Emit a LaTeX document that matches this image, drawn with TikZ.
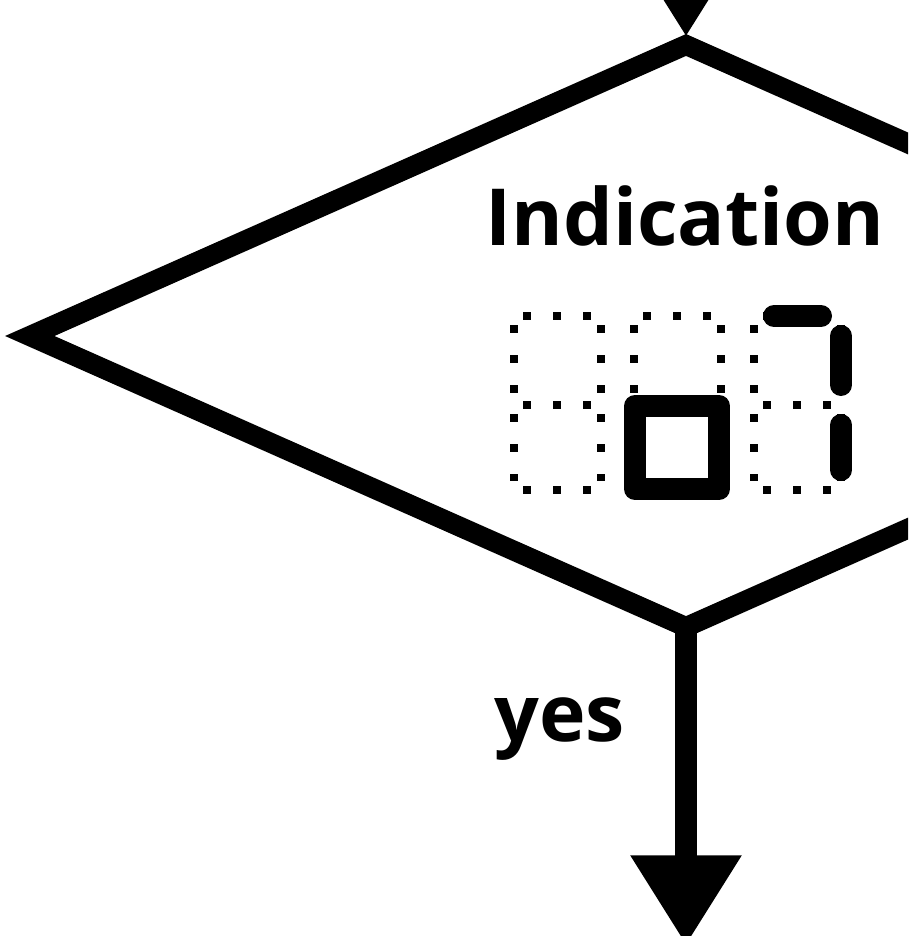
\documentclass[tikz,border=0pt]{standalone}
\usepackage{fontspec}
\setmainfont{Open Sans}
\usepackage{tikz}
\usetikzlibrary{arrows.meta,positioning,shapes.geometric}
\tikzset{
  decision node/.style={diamond,draw=black,line width=0.2cm,minimum width=13.2cm,minimum height=5.9cm,inner sep=0pt},
  flow arrow/.style={-{Triangle[length=0.9cm,width=1.05cm]},line width=0.22cm,draw=black},
  label text/.style={font=\fontsize{22.4}{27}\selectfont\bfseries,inner sep=0pt},
  seg dot/.style={line width=0.08cm,dash pattern=on 0.08cm off 0.22cm,shorten <=0.09cm,shorten >=0.09cm},
  seg on/.style={line width=0.22cm,line cap=round,line join=round}
}
\begin{document}
\begin{tikzpicture}[x=0.01cm,y=-0.01cm,node distance=3mm]
        \useasboundingbox (0,0) rectangle (908,936);
        \clip (0,0) rectangle (908,936);
        \node[decision node] (check) at (686,336) {};
        \node[label text,anchor=base] (indication) at (685,245) {Indication};
        \foreach \x in {514,634,754}
          \foreach \ax/\ay/\bx/\by in {0/316/87/316,87/316/87/405,87/405/87/490,0/490/87/490,0/405/0/490,0/316/0/405,0/405/87/405}
            \draw[seg dot] ({\x+\ax},\ay) -- ({\x+\bx},\by);
        \draw[seg on] (635,406) rectangle (719,489);
        \draw[seg on,shorten <=0.2cm,shorten >=0.2cm] (754,316) -- (841,316);
        \draw[seg on,shorten <=0.2cm,shorten >=0.2cm] (841,316) -- (841,405);
        \draw[seg on,shorten <=0.2cm,shorten >=0.2cm] (841,405) -- (841,490);
        \coordinate (in) at (686,-60);
        \coordinate[below=3.04cm of check.south] (out);
        \draw[flow arrow,shorten >=-0.06cm] (in) -- (check.north);
        \draw[flow arrow,shorten <=-0.15cm] (check.south) -- node[label text,pos=0.29,left=0.5cm] (yes) {yes} (out);
      \end{tikzpicture}
\end{document}
